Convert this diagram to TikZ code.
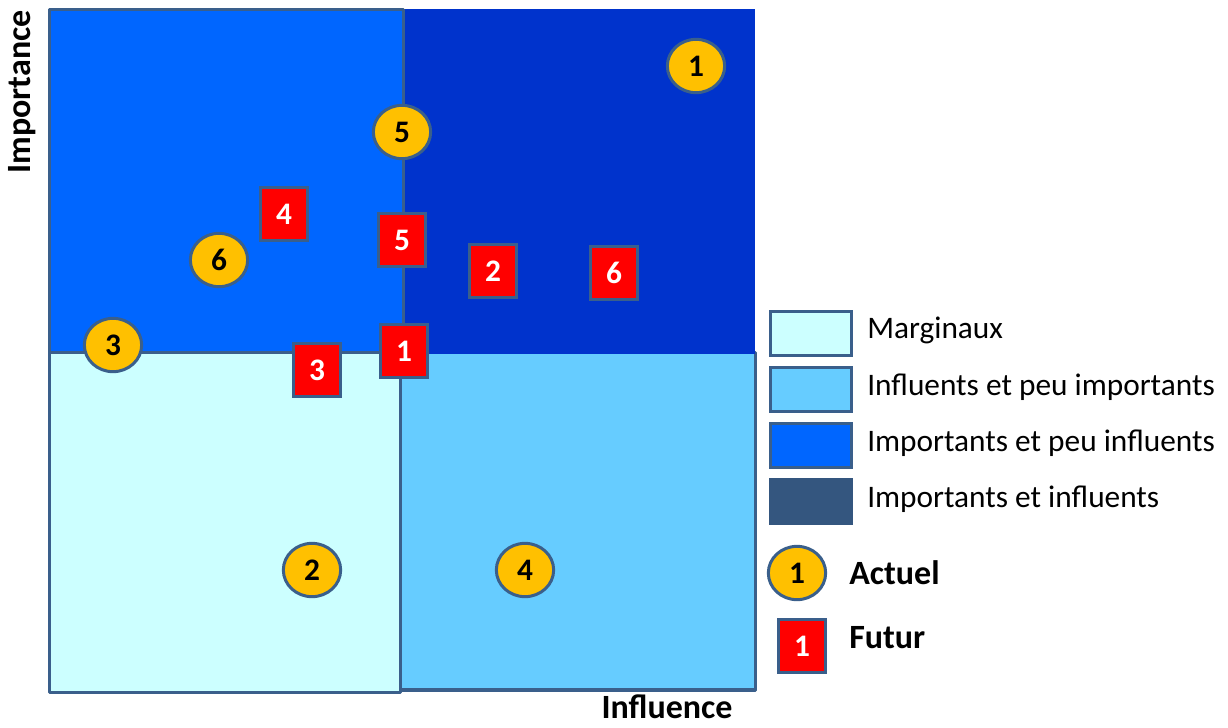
\documentclass[tikz,border=0pt]{standalone}
\usepackage{fontspec}
\setmainfont{Carlito}
\usetikzlibrary{shapes.geometric}
\definecolor{edgeblue}{HTML}{3A5F8B}
\definecolor{qtl}{HTML}{0066FF}
\definecolor{qtr}{HTML}{0033CC}
\definecolor{qbl}{HTML}{CCFFFF}
\definecolor{qbr}{HTML}{66CCFF}
\definecolor{qdark}{HTML}{34567F}
\definecolor{gold}{HTML}{FFC000}
\tikzset{
  quad/.style={draw=edgeblue, line width=2.25pt, line join=round},
  actuel/.style={ellipse, draw=edgeblue, line width=2.25pt, fill=gold,
    minimum width=43pt, minimum height=40pt, inner sep=0pt,
    font=\fontsize{23.5}{26}\selectfont\bfseries, text=black},
  futur/.style={rectangle, draw=edgeblue, line width=2.25pt, fill=red,
    minimum width=35pt, minimum height=40pt, inner sep=0pt,
    font=\fontsize{23.5}{26}\selectfont\bfseries, text=white},
  legbox/.style={rectangle, draw=edgeblue, line width=2.25pt,
    minimum width=61pt, minimum height=33pt, inner sep=0pt},
  legtext/.style={anchor=west, inner sep=0pt, font=\fontsize{23.5}{27}\selectfont},
  axistext/.style={inner sep=0pt, font=\fontsize{25.5}{30}\selectfont\bfseries},
}
\begin{document}
\begin{tikzpicture}[x=0.75pt,y=-0.75pt]
\useasboundingbox (0,0) rectangle (1228,728);
% quadrants
\path[quad, fill=qbr] (400,352) rectangle (755,690);
\fill[qtr] (403,9) rectangle (755,354);
\path[quad, fill=qbl] (49,352) rectangle (400,692);
\path[quad, fill=qtl] (49,9) rectangle (403,352);
\draw[edgeblue, line width=3pt] (400,690) -- (755,690);
% actual positions
\node[actuel] (a1) at (696,66) {1};
\node[actuel] (a5) at (402,132) {5};
\node[actuel] (a6) at (219,260) {6};
\node[actuel] (a3) at (113,345) {3};
\node[actuel] (a2) at (312,570) {2};
\node[actuel] (a4) at (525,570) {4};
% future positions
\node[futur] (f4) at (284,214) {4};
\node[futur] (f5) at (402,240) {5};
\node[futur] (f2) at (493,271) {2};
\node[futur] (f6) at (614,273) {6};
\node[futur] (f1) at (404,351) {1};
\node[futur] (f3) at (317,370) {3};
% axis labels
\node[axistext, rotate=90] (imp) at (22,92) {Importance};
\node[axistext] (inf) at (667,707) {Influence};
% legend
\node[legbox, fill=qbl] (l1) at (811,333) {};
\node[legbox, fill=qbr] (l2) at (811,389) {};
\node[legbox, fill=qtl] (l3) at (811,445) {};
\node[legbox, fill=qdark, draw=qdark] (l4) at (811,501) {};
\node[legtext] (t1) at (867,330) {Marginaux};
\node[legtext] (t2) at (867,387) {Influents et peu importants};
\node[legtext] (t3) at (867,443) {Importants et peu influents};
\node[legtext] (t4) at (867,499) {Importants et influents};
\node[actuel] (la) at (797,573) {1};
\node[futur] (lf) at (802,646) {1};
\node[axistext, anchor=west] (ta) at (849,573) {Actuel};
\node[axistext, anchor=west] (tf) at (849,638) {Futur};
\end{tikzpicture}
\end{document}
